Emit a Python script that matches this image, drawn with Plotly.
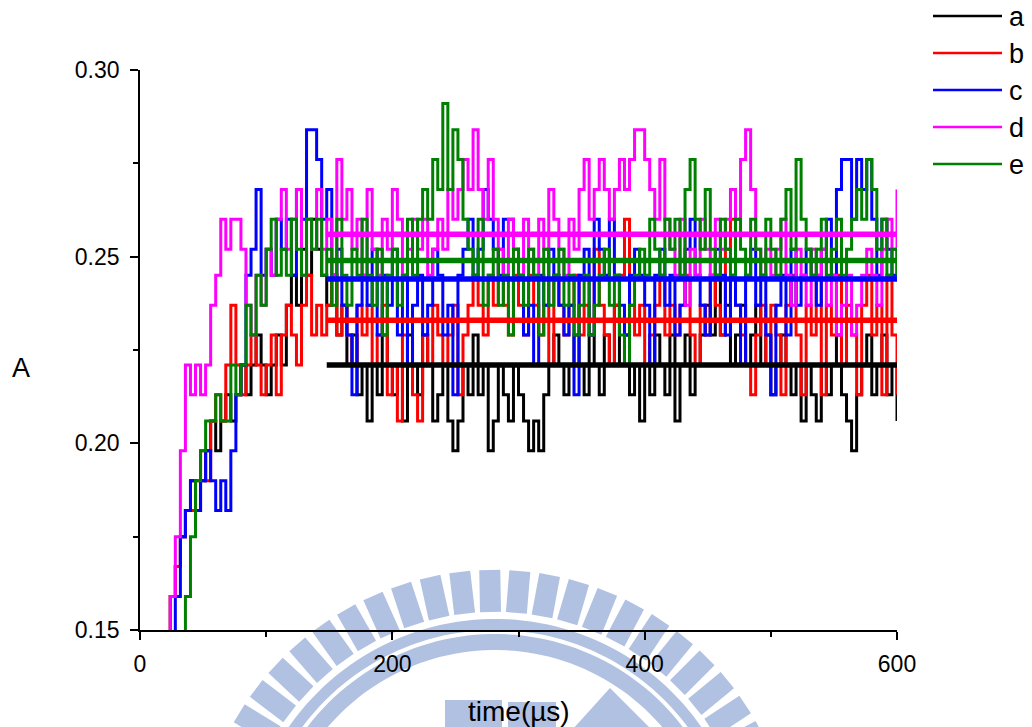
import numpy as np
import plotly.graph_objects as go

# Sampling grid of the recorded traces (µs)
T0, DT = 20, 4

# Absorbance traces, one row = 10 samples (40 µs)
a = [
    0.145, 0.159, 0.167, 0.175, 0.182, 0.190, 0.182, 0.190, 0.198, 0.206,
    0.198, 0.206, 0.213, 0.206, 0.213, 0.221, 0.213, 0.221, 0.229, 0.221,
    0.213, 0.221, 0.229, 0.221, 0.237, 0.245, 0.237, 0.252, 0.245, 0.260,
    0.252, 0.245, 0.237, 0.245, 0.229, 0.237, 0.221, 0.229, 0.213, 0.221,
    0.206, 0.221, 0.213, 0.229, 0.221, 0.213, 0.221, 0.206, 0.229, 0.221,
    0.213, 0.229, 0.221, 0.206, 0.213, 0.221, 0.206, 0.198, 0.206, 0.221,
    0.213, 0.229, 0.213, 0.221, 0.198, 0.206, 0.221, 0.213, 0.206, 0.221,
    0.213, 0.206, 0.198, 0.206, 0.198, 0.213, 0.221, 0.229, 0.221, 0.213,
    0.221, 0.229, 0.221, 0.213, 0.229, 0.221, 0.213, 0.229, 0.221, 0.237,
    0.221, 0.229, 0.213, 0.221, 0.206, 0.221, 0.213, 0.229, 0.221, 0.213,
    0.229, 0.206, 0.221, 0.229, 0.213, 0.221, 0.229, 0.237, 0.229, 0.245,
    0.229, 0.237, 0.221, 0.229, 0.237, 0.221, 0.229, 0.237, 0.221, 0.229,
    0.213, 0.221, 0.229, 0.221, 0.213, 0.221, 0.206, 0.221, 0.213, 0.206,
    0.221, 0.213, 0.221, 0.229, 0.213, 0.206, 0.198, 0.213, 0.221, 0.229,
    0.213, 0.221, 0.229, 0.213, 0.221, 0.206,
]

b = [
    0.145, 0.159, 0.167, 0.175, 0.182, 0.182, 0.190, 0.198, 0.190, 0.206,
    0.213, 0.206, 0.221, 0.237, 0.221, 0.213, 0.221, 0.229, 0.221, 0.213,
    0.221, 0.229, 0.213, 0.229, 0.237, 0.229, 0.221, 0.237, 0.245, 0.229,
    0.237, 0.229, 0.237, 0.245, 0.229, 0.237, 0.229, 0.221, 0.237, 0.229,
    0.237, 0.221, 0.229, 0.237, 0.213, 0.221, 0.206, 0.229, 0.221, 0.213,
    0.206, 0.229, 0.221, 0.237, 0.229, 0.221, 0.229, 0.237, 0.213, 0.229,
    0.237, 0.245, 0.237, 0.229, 0.245, 0.237, 0.252, 0.237, 0.229, 0.245,
    0.237, 0.229, 0.245, 0.237, 0.229, 0.237, 0.221, 0.245, 0.237, 0.229,
    0.237, 0.245, 0.229, 0.237, 0.229, 0.252, 0.237, 0.229, 0.221, 0.237,
    0.245, 0.260, 0.237, 0.229, 0.237, 0.221, 0.229, 0.237, 0.245, 0.229,
    0.237, 0.229, 0.237, 0.245, 0.229, 0.221, 0.237, 0.229, 0.245, 0.237,
    0.229, 0.252, 0.260, 0.237, 0.229, 0.221, 0.213, 0.229, 0.237, 0.221,
    0.237, 0.229, 0.213, 0.237, 0.245, 0.229, 0.213, 0.237, 0.229, 0.245,
    0.213, 0.237, 0.229, 0.245, 0.221, 0.237, 0.229, 0.213, 0.237, 0.245,
    0.229, 0.237, 0.213, 0.245, 0.229, 0.213,
]

c = [
    0.145, 0.145, 0.159, 0.175, 0.182, 0.190, 0.182, 0.190, 0.198, 0.190,
    0.182, 0.190, 0.182, 0.198, 0.213, 0.221, 0.245, 0.252, 0.268, 0.245,
    0.252, 0.245, 0.260, 0.252, 0.260, 0.245, 0.268, 0.260, 0.284, 0.284,
    0.276, 0.260, 0.268, 0.245, 0.252, 0.237, 0.229, 0.213, 0.237, 0.245,
    0.237, 0.252, 0.229, 0.245, 0.237, 0.252, 0.229, 0.245, 0.221, 0.237,
    0.245, 0.229, 0.237, 0.252, 0.245, 0.229, 0.237, 0.213, 0.245, 0.252,
    0.260, 0.245, 0.252, 0.268, 0.260, 0.252, 0.245, 0.260, 0.260, 0.252,
    0.245, 0.229, 0.237, 0.221, 0.245, 0.237, 0.252, 0.245, 0.237, 0.229,
    0.237, 0.213, 0.245, 0.252, 0.229, 0.260, 0.252, 0.245, 0.260, 0.245,
    0.237, 0.229, 0.245, 0.252, 0.245, 0.237, 0.221, 0.245, 0.252, 0.237,
    0.245, 0.229, 0.237, 0.252, 0.260, 0.245, 0.237, 0.229, 0.245, 0.252,
    0.245, 0.229, 0.245, 0.237, 0.221, 0.245, 0.252, 0.237, 0.245, 0.229,
    0.213, 0.237, 0.245, 0.229, 0.252, 0.237, 0.245, 0.252, 0.245, 0.237,
    0.252, 0.260, 0.245, 0.268, 0.276, 0.276, 0.260, 0.276, 0.268, 0.276,
    0.260, 0.245, 0.260, 0.252, 0.245, 0.252,
]

d = [
    0.145, 0.159, 0.175, 0.198, 0.221, 0.213, 0.221, 0.213, 0.221, 0.237,
    0.245, 0.260, 0.252, 0.260, 0.260, 0.252, 0.237, 0.229, 0.245, 0.237,
    0.252, 0.245, 0.260, 0.268, 0.252, 0.260, 0.268, 0.245, 0.260, 0.252,
    0.268, 0.252, 0.260, 0.245, 0.276, 0.260, 0.268, 0.252, 0.260, 0.245,
    0.268, 0.252, 0.245, 0.260, 0.252, 0.268, 0.260, 0.245, 0.252, 0.260,
    0.252, 0.260, 0.245, 0.252, 0.260, 0.252, 0.268, 0.260, 0.268, 0.276,
    0.268, 0.284, 0.268, 0.260, 0.276, 0.260, 0.252, 0.245, 0.260, 0.252,
    0.245, 0.260, 0.252, 0.245, 0.260, 0.252, 0.268, 0.260, 0.252, 0.245,
    0.260, 0.252, 0.268, 0.276, 0.260, 0.268, 0.276, 0.268, 0.260, 0.268,
    0.276, 0.268, 0.276, 0.284, 0.284, 0.276, 0.268, 0.260, 0.276, 0.260,
    0.252, 0.245, 0.260, 0.237, 0.252, 0.245, 0.260, 0.252, 0.245, 0.260,
    0.252, 0.260, 0.268, 0.260, 0.276, 0.284, 0.268, 0.252, 0.245, 0.252,
    0.245, 0.252, 0.260, 0.245, 0.237, 0.252, 0.245, 0.237, 0.252, 0.245,
    0.252, 0.237, 0.245, 0.229, 0.237, 0.245, 0.229, 0.237, 0.245, 0.252,
    0.245, 0.237, 0.252, 0.260, 0.252, 0.268,
]

e = [
    0.140, 0.140, 0.140, 0.140, 0.159, 0.175, 0.190, 0.198, 0.206, 0.206,
    0.213, 0.206, 0.206, 0.221, 0.213, 0.221, 0.237, 0.229, 0.245, 0.237,
    0.252, 0.260, 0.245, 0.252, 0.245, 0.260, 0.252, 0.245, 0.260, 0.252,
    0.260, 0.245, 0.252, 0.237, 0.260, 0.245, 0.237, 0.252, 0.245, 0.260,
    0.245, 0.237, 0.252, 0.229, 0.245, 0.252, 0.237, 0.245, 0.260, 0.245,
    0.260, 0.268, 0.260, 0.276, 0.268, 0.291, 0.268, 0.284, 0.276, 0.260,
    0.252, 0.245, 0.260, 0.237, 0.245, 0.252, 0.237, 0.245, 0.229, 0.252,
    0.245, 0.237, 0.252, 0.245, 0.229, 0.252, 0.237, 0.245, 0.252, 0.237,
    0.245, 0.229, 0.237, 0.245, 0.229, 0.237, 0.245, 0.252, 0.237, 0.245,
    0.229, 0.221, 0.237, 0.245, 0.252, 0.245, 0.260, 0.252, 0.245, 0.260,
    0.252, 0.260, 0.245, 0.268, 0.276, 0.260, 0.252, 0.268, 0.252, 0.245,
    0.260, 0.252, 0.245, 0.260, 0.252, 0.245, 0.260, 0.252, 0.245, 0.260,
    0.252, 0.245, 0.260, 0.268, 0.252, 0.276, 0.260, 0.252, 0.245, 0.252,
    0.260, 0.245, 0.252, 0.260, 0.245, 0.252, 0.260, 0.268, 0.260, 0.276,
    0.268, 0.252, 0.260, 0.245, 0.252, 0.245,
]

names = ["a", "b", "c", "d", "e"]
colors = ["#000000", "#ff0000", "#0000ff", "#ff00ff", "#008000"]
series = [a, b, c, d, e]

# Steady-state averages drawn as thick horizontal lines
mean_values = [0.221, 0.233, 0.244, 0.256, 0.249]
mean_span = [148, 600]

x_ticks = [0, 200, 400, 600]
x_minor = [100, 300, 500]
y_ticks = [0.15, 0.20, 0.25, 0.30]
y_tick_text = ["0.15", "0.20", "0.25", "0.30"]
y_minor = [0.175, 0.225, 0.275]

# Figure geometry (pixels)
FIG_W, FIG_H = 1032, 727
L, R, T, B = 140, 897, 70, 630
FONT = "Liberation Sans, Arial, sans-serif"


def px(x):
    return (x - L) / (R - L)


def py(y):
    return (B - y) / (B - T)


fig = go.Figure()

for name, col, ys in zip(names, colors, series):
    t = T0 + DT * np.arange(len(ys))
    fig.add_trace(go.Scatter(
        x=t, y=ys, mode="lines", name=name,
        line=dict(color=col, width=3, shape="hv"),
        showlegend=False,
    ))

for name, col, m in zip(names, colors, mean_values):
    fig.add_trace(go.Scatter(
        x=mean_span, y=[m, m], mode="lines", name=name + " mean",
        line=dict(color=col, width=5.5),
        showlegend=False,
    ))

shapes = []
annotations = []

# Faint seal drawn in the page background
SEAL = "#b1c1e2"
cx, cy = 495, 870


def pt(x, y):
    return f"{px(x):.5f},{py(y):.5f}"


def poly(points):
    return "M " + " L ".join(pt(x, y) for x, y in points) + " Z"


for k in range(-17, 18):
    th = np.radians(-1 + 5.75 * k)
    ux, uy = np.sin(th), -np.cos(th)
    vx, vy = np.cos(th), np.sin(th)
    hw = 10.5
    corners = [(cx + r * ux + s * hw * vx, cy + r * uy + s * hw * vy)
               for r, s in [(258, -1), (300, -1), (300, 1), (258, 1)]]
    shapes.append(dict(type="path", path=poly(corners), xref="paper", yref="paper",
                       fillcolor=SEAL, line=dict(width=0), layer="below"))


def band(r_in, r_out):
    angs = np.radians(np.linspace(-85, 85, 90))
    outer = [(cx + r_out * np.sin(t), cy - r_out * np.cos(t)) for t in angs]
    inner = [(cx + r_in * np.sin(t), cy - r_in * np.cos(t)) for t in angs[::-1]]
    return poly(outer + inner)


for r_in, r_out in [(240, 251), (220, 236)]:
    shapes.append(dict(type="path", path=band(r_in, r_out), xref="paper", yref="paper",
                       fillcolor=SEAL, line=dict(width=0), layer="below"))

for pts in [
    [(445, 700), (502, 700), (502, 740), (445, 740)],
    [(508, 702), (556, 702), (556, 740), (508, 740)],
    [(563, 740), (610, 688), (662, 740)],
]:
    shapes.append(dict(type="path", path=poly(pts), xref="paper", yref="paper",
                       fillcolor=SEAL, line=dict(width=0), layer="below"))

# Legend: long line samples with labels at the top right
legend_y = [16, 53, 90, 127, 164]
for name, col, ly in zip(names, colors, legend_y):
    shapes.append(dict(type="line", xref="paper", yref="paper",
                       x0=px(933), x1=px(1002), y0=py(ly), y1=py(ly),
                       line=dict(color=col, width=2.5)))
    annotations.append(dict(text=name, xref="paper", yref="paper",
                            x=px(1007), y=py(ly + 1), xanchor="left", yanchor="middle",
                            showarrow=False, font=dict(size=27, color="black", family=FONT)))

# Axis titles
annotations.append(dict(text="A", xref="paper", yref="paper", x=px(21), y=py(368),
                        xanchor="center", yanchor="middle", showarrow=False,
                        font=dict(size=27, color="black", family=FONT)))
annotations.append(dict(text="time(µs)", xref="paper", yref="paper", x=px(519), y=py(711),
                        xanchor="center", yanchor="middle", showarrow=False,
                        font=dict(size=28, color="black", family=FONT)))

axis_common = dict(
    showgrid=False, zeroline=False, showline=True, linecolor="black", linewidth=1.8,
    ticks="outside", ticklen=8, tickwidth=1.8, tickcolor="black",
    tickfont=dict(size=23, color="black", family=FONT),
)

fig.update_layout(
    width=FIG_W, height=FIG_H,
    margin=dict(l=L, r=FIG_W - R, t=T, b=FIG_H - B, pad=0),
    paper_bgcolor="white", plot_bgcolor="rgba(0,0,0,0)",
    shapes=shapes, annotations=annotations,
    xaxis=dict(range=[0, 600], tickvals=x_ticks, ticklabelstandoff=4,
               minor=dict(tickvals=x_minor, ticks="outside", ticklen=5, tickwidth=1.8,
                          tickcolor="black", showgrid=False),
               **axis_common),
    yaxis=dict(range=[0.15, 0.30], tickvals=y_ticks, ticktext=y_tick_text,
               ticklabelstandoff=6,
               minor=dict(tickvals=y_minor, ticks="outside", ticklen=5, tickwidth=1.8,
                          tickcolor="black", showgrid=False),
               **axis_common),
)

fig.write_html("out.html")
